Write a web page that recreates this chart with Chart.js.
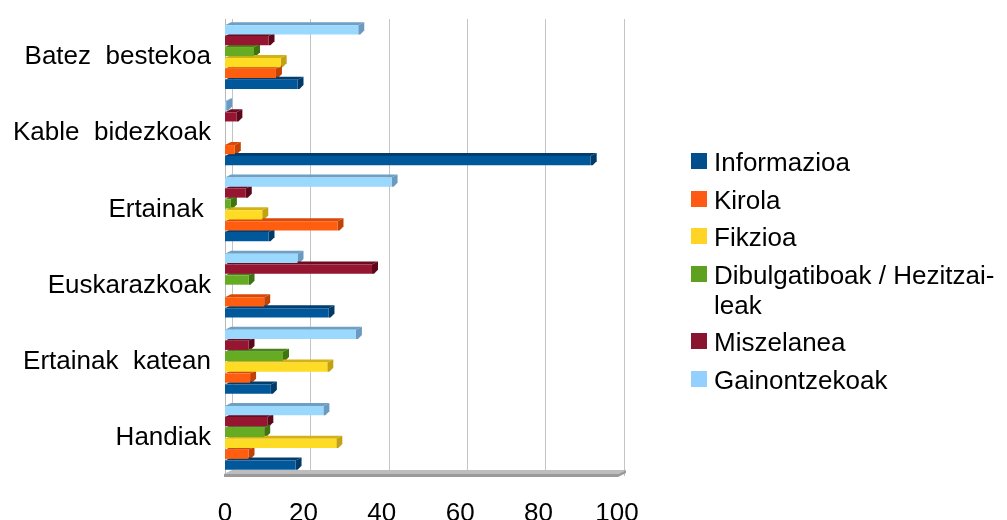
<!DOCTYPE html>
<html>
<head>
<meta charset="utf-8">
<script src="https://cdn.jsdelivr.net/npm/chart.js@4/dist/chart.umd.min.js"></script>
<style>
  html, body { margin: 0; padding: 0; background: #fff; }
  #wrap { position: relative; width: 1007px; height: 520px; overflow: hidden; }
  canvas { position: absolute; left: 0; top: 0; }
  #legend {
    position: absolute; left: 690px; top: 147px;
    font-family: "Liberation Sans", Arial, sans-serif; font-size: 26px; line-height: 30px; color: #000;
  }
  .item { position: relative; padding-left: 24px; margin-bottom: 7.5px; white-space: nowrap; }
  .swatch { position: absolute; left: 1px; top: 6px; width: 16px; height: 16px; }
</style>
</head>
<body>
<div id="wrap">
  <canvas id="c" width="1007" height="520"></canvas>
  <div id="legend"></div>
</div>
<script>
// Categories, top to bottom
const categories = ['Batez  bestekoa', 'Kable  bidezkoak', 'Ertainak ', 'Euskarazkoak', 'Ertainak  katean', 'Handiak'];

// Series names (legend order); "\n" marks the wrapped legend line
const seriesNames = ['Informazioa', 'Kirola', 'Fikzioa', 'Dibulgatiboak / Hezitzai-\nleak', 'Miszelanea', 'Gainontzekoak'];

// Series values (%), one per category
const informazioa   = [18.5, 93.3, 11.1, 26.4, 11.7, 18.0];
const kirola        = [13.0,  2.5, 28.7, 10.0,  6.4,  6.0];
const fikzioa       = [14.2,  0.0,  9.5,  0.0, 26.1, 28.4];
const dibulgatiboak = [ 7.4,  0.0,  1.5,  6.0, 14.8, 10.0];
const miszelanea    = [11.1,  2.9,  5.3, 37.5,  6.0, 10.8];
const gainontzekoak = [34.0,  0.3, 42.5, 18.5, 33.4, 25.1];

// Value axis tick labels
const tickValues = [0, 20, 40, 60, 80, 100];

const seriesValues = [informazioa, kirola, fikzioa, dibulgatiboak, miszelanea, gainontzekoak];

// Bar colours: front face, top face, end cap, legend swatch
const seriesStyles = [
  { face: '#00589b', top: '#003e70', side: '#003a68', swatch: '#004f8c' },
  { face: '#ff5e10', top: '#d84a08', side: '#c24206', swatch: '#ff5a14' },
  { face: '#ffdc24', top: '#d4b216', side: '#c2a210', swatch: '#ffd424' },
  { face: '#66ab24', top: '#4a8418', side: '#3e7412', swatch: '#5ea11e' },
  { face: '#961632', top: '#6c0c20', side: '#5c081a', swatch: '#8a1430' },
  { face: '#9ad8fe', top: '#6e9fc4', side: '#6a9ac0', swatch: '#93d0ff' }
];

// Legend
const legendEl = document.getElementById('legend');
seriesNames.forEach((name, i) => {
  const item = document.createElement('div');
  item.className = 'item';
  const sw = document.createElement('span');
  sw.className = 'swatch';
  sw.style.background = seriesStyles[i].swatch;
  item.appendChild(sw);
  name.split('\n').forEach((line, k) => {
    if (k > 0) item.appendChild(document.createElement('br'));
    item.appendChild(document.createTextNode(line));
  });
  legendEl.appendChild(item);
});

// Horizontal bars list datasets top-down inside a category, so the last series goes first
const order = seriesNames.map((_, i) => i).reverse();
const datasets = order.map(i => ({
  label: seriesNames[i].replace('-\n', ''),
  data: seriesValues[i],
  backgroundColor: seriesStyles[i].face,
  borderWidth: 0,
  styleIndex: i,
  xAxisID: 'x',
  categoryPercentage: 0.86,
  barPercentage: 0.84
}));

const DX = 6, DY = 3;

// Extruded look: top face, end cap, and the floor slab
const depthPlugin = {
  id: 'depth',
  beforeDatasetsDraw(chart) {
    const ctx = chart.ctx;
    const area = chart.chartArea;
    // floor slab
    ctx.save();
    ctx.fillStyle = '#bdbdbd';
    ctx.beginPath();
    ctx.moveTo(area.left - 1, area.bottom - 2);
    ctx.lineTo(area.left + 7, area.bottom - 6);
    ctx.lineTo(area.right + 2, area.bottom - 6);
    ctx.lineTo(area.right - 6, area.bottom - 2);
    ctx.closePath();
    ctx.fill();
    ctx.fillStyle = '#9a9a9a';
    ctx.beginPath();
    ctx.moveTo(area.left - 1, area.bottom - 2);
    ctx.lineTo(area.right - 6, area.bottom - 2);
    ctx.lineTo(area.right + 2, area.bottom - 6);
    ctx.lineTo(area.right + 2, area.bottom - 3);
    ctx.lineTo(area.right - 6, area.bottom + 1);
    ctx.lineTo(area.left - 1, area.bottom + 1);
    ctx.closePath();
    ctx.fill();
    ctx.restore();

    chart.data.datasets.forEach((ds, di) => {
      const meta = chart.getDatasetMeta(di);
      const st = seriesStyles[ds.styleIndex];
      meta.data.forEach((el, j) => {
        if (!ds.data[j]) return;
        const p = el.getProps(['x', 'y', 'base', 'height'], true);
        const top = p.y - p.height / 2, bottom = p.y + p.height / 2;
        const x0 = p.base, x1 = p.x;
        ctx.save();
        ctx.fillStyle = st.top;
        ctx.beginPath();
        ctx.moveTo(x0, top);
        ctx.lineTo(x0 + DX, top - DY);
        ctx.lineTo(x1 + DX, top - DY);
        ctx.lineTo(x1, top);
        ctx.closePath();
        ctx.fill();
        ctx.fillStyle = st.side;
        ctx.beginPath();
        ctx.moveTo(x1, top);
        ctx.lineTo(x1 + DX, top - DY);
        ctx.lineTo(x1 + DX, bottom - DY - 1);
        ctx.lineTo(x1 + 2, bottom);
        ctx.lineTo(x1, bottom);
        ctx.closePath();
        ctx.fill();
        ctx.restore();
      });
    });
  }
};

new Chart(document.getElementById('c'), {
  type: 'bar',
  data: { labels: categories, datasets },
  options: {
    indexAxis: 'y',
    responsive: false,
    animation: false,
    layout: { padding: { left: 0, right: 383, top: 19, bottom: 0 } },
    plugins: { legend: { display: false }, tooltip: { enabled: false } },
    scales: {
      x: {
        type: 'linear',
        position: 'bottom',
        min: 0,
        max: 101.8,
        afterBuildTicks: s => { s.ticks = tickValues.map(v => ({ value: v })); },
        afterFit: s => { s.height = 44; s.paddingLeft = 0; s.paddingRight = 0; },
        grid: { display: false, drawTicks: false },
        border: { display: false },
        ticks: {
          padding: 22,
          color: '#000',
          font: { family: "'Liberation Sans', Arial, sans-serif", size: 26 }
        }
      },
      // back-wall grid, set a little deeper than the front plane
      xWall: {
        type: 'linear',
        position: 'top',
        min: -1.92,
        max: 100,
        afterBuildTicks: s => { s.ticks = tickValues.map(v => ({ value: v })); },
        afterFit: s => { s.height = 0; s.paddingLeft = 0; s.paddingRight = 0; },
        grid: { color: '#c4c4c4', lineWidth: 1, drawTicks: false },
        border: { display: false },
        ticks: { display: false }
      },
      y: {
        type: 'category',
        afterFit: s => { s.width = 225; s.paddingTop = 0; s.paddingBottom = 0; },
        grid: { display: false, drawTicks: false },
        border: { display: true, color: '#b8b8b8', width: 1 },
        ticks: {
          padding: 14,
          color: '#000',
          font: { family: "'Liberation Sans', Arial, sans-serif", size: 26 }
        }
      }
    }
  },
  plugins: [depthPlugin]
});
</script>
</body>
</html>
